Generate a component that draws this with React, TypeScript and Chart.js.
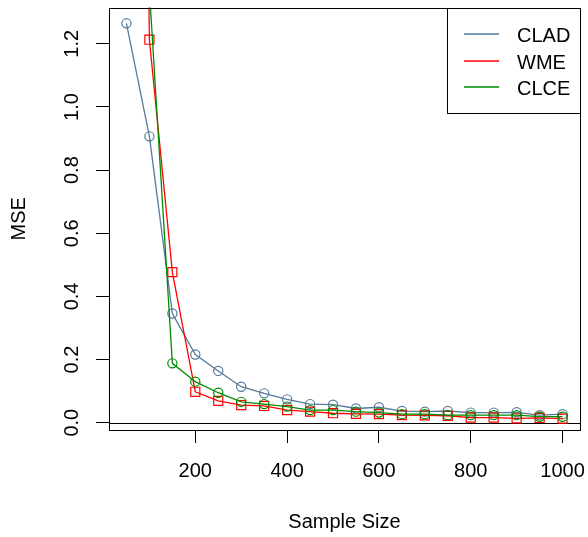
import React, { useEffect, useRef } from "react";
import { Chart, registerables } from "chart.js";

Chart.register(...registerables);

// ---- data ----
const sampleSizes = [50, 100, 150, 200, 250, 300, 350, 400, 450, 500, 550, 600, 650, 700, 750, 800, 850, 900, 950, 1000];
const cladMSE = [1.265, 0.907, 0.346, 0.216, 0.164, 0.114, 0.093, 0.074, 0.059, 0.057, 0.045, 0.049, 0.037, 0.035, 0.037, 0.032, 0.032, 0.033, 0.024, 0.027];
const wmeMSE = [6.9, 1.213, 0.477, 0.098, 0.069, 0.056, 0.053, 0.040, 0.035, 0.030, 0.028, 0.027, 0.024, 0.023, 0.022, 0.016, 0.016, 0.014, 0.015, 0.013];
const clceMSE = [3.0, 1.37, 0.188, 0.130, 0.095, 0.066, 0.059, 0.051, 0.040, 0.040, 0.035, 0.032, 0.027, 0.027, 0.024, 0.024, 0.024, 0.024, 0.019, 0.019];
const seriesNames = ["CLAD", "WME", "CLCE"];
const xTickValues = [200, 400, 600, 800, 1000];
const xTickLabels = ["200", "400", "600", "800", "1000"];
const yTickValues = [0, 0.2, 0.4, 0.6, 0.8, 1.0, 1.2];
const yTickLabels = ["0.0", "0.2", "0.4", "0.6", "0.8", "1.0", "1.2"];
const xTitle = "Sample Size";
const yTitle = "MSE";

// ---- styles ----
const COLORS = ["#557a9a", "#ff0000", "#008b00"];
const FONT = '20px "Liberation Sans", Arial, sans-serif';

const rPlotPlugin = {
  id: "rPlot",
  beforeDatasetsDraw(chart: any) {
    const { ctx, chartArea: a, scales } = chart;
    const y0 = Math.round(scales.y.getPixelForValue(0)) + 0.5;
    ctx.save();
    ctx.strokeStyle = "#000";
    ctx.lineWidth = 1;
    ctx.beginPath();
    ctx.moveTo(a.left, y0);
    ctx.lineTo(a.right, y0);
    ctx.stroke();
    ctx.restore();
  },
  afterDraw(chart: any) {
    const { ctx, chartArea: a, scales } = chart;
    const xs = scales.x;
    const ys = scales.y;
    ctx.save();
    // box
    ctx.strokeStyle = "#000";
    ctx.lineWidth = 1;
    ctx.strokeRect(Math.round(a.left) + 0.5, Math.round(a.top) + 0.5, Math.round(a.right - a.left), Math.round(a.bottom - a.top));

    ctx.fillStyle = "#000";
    ctx.font = FONT;
    // x tick labels
    ctx.textAlign = "center";
    ctx.textBaseline = "alphabetic";
    xTickValues.forEach((v, i) => {
      ctx.fillText(xTickLabels[i], xs.getPixelForValue(v), 477);
    });
    // x title
    ctx.fillText(xTitle, (a.left + a.right) / 2, 528);
    // y tick labels (rotated)
    yTickValues.forEach((v, i) => {
      ctx.save();
      ctx.translate(78, ys.getPixelForValue(v));
      ctx.rotate(-Math.PI / 2);
      ctx.textAlign = "center";
      ctx.fillText(yTickLabels[i], 0, 0);
      ctx.restore();
    });
    // y title
    ctx.save();
    ctx.translate(25, (a.top + a.bottom) / 2);
    ctx.rotate(-Math.PI / 2);
    ctx.textAlign = "center";
    ctx.fillText(yTitle, 0, 0);
    ctx.restore();
    ctx.restore();

    // legend
    const lx = 447.5;
    const ly = Math.round(a.top) + 0.5;
    const lw = Math.round(a.right) - 447;
    const lh = 105;
    ctx.save();
    ctx.fillStyle = "#fff";
    ctx.fillRect(lx, ly, lw, lh);
    ctx.strokeStyle = "#000";
    ctx.lineWidth = 1;
    ctx.strokeRect(lx, ly, lw, lh);
    ctx.restore();
    const baselines = [42, 68.5, 95];
    seriesNames.forEach((name, i) => {
      const yl = Math.round(baselines[i] - 8);
      ctx.save();
      ctx.strokeStyle = COLORS[i];
      ctx.lineWidth = 1.5;
      ctx.setLineDash([]);
      ctx.beginPath();
      ctx.moveTo(464, yl);
      ctx.lineTo(499, yl);
      ctx.stroke();
      ctx.restore();
      ctx.save();
      ctx.font = FONT;
      ctx.fillStyle = "#000";
      ctx.textAlign = "left";
      ctx.textBaseline = "alphabetic";
      ctx.fillText(name, 517, baselines[i]);
      ctx.restore();
    });
  },
};

export default function App() {
  const canvasRef = useRef<HTMLCanvasElement | null>(null);

  useEffect(() => {
    const canvas = canvasRef.current;
    if (!canvas) return;
    const mk = (vals: number[]) => sampleSizes.map((x, i) => ({ x, y: vals[i] }));
    const seriesData = [cladMSE, wmeMSE, clceMSE];
    const pointStyles = ["circle", "rect", "circle"];
    const radii = [4.6, 6.4, 4.6];
    const datasets = seriesNames.map((name, i) => ({
      label: name,
      data: mk(seriesData[i]),
      borderColor: COLORS[i],
      backgroundColor: "rgba(0,0,0,0)",
      borderWidth: 1.3,
      pointStyle: pointStyles[i],
      pointRadius: radii[i],
      pointBorderWidth: 1.2,
      pointBorderColor: COLORS[i],
      pointBackgroundColor: "rgba(0,0,0,0)",
      fill: false,
      tension: 0,
      order: 3 - i,
    }));

    const chart = new Chart(canvas, {
      type: "line",
      data: { datasets },
      options: {
        animation: false,
        responsive: false,
        events: [],
        layout: { padding: { top: 7, right: 8, left: 0, bottom: 0 } },
        plugins: { legend: { display: false }, tooltip: { enabled: false } },
        scales: {
          x: {
            type: "linear",
            min: 12,
            max: 1038,
            afterBuildTicks: (s: any) => {
              s.ticks = xTickValues.map((v) => ({ value: v }));
            },
            afterFit: (s: any) => {
              s.height = 107;
            },
            ticks: { display: false },
            grid: { drawOnChartArea: false, drawTicks: true, tickLength: 13, color: "#000", lineWidth: 1 },
            border: { display: false },
          },
          y: {
            type: "linear",
            min: -0.0231,
            max: 1.3148,
            afterBuildTicks: (s: any) => {
              s.ticks = yTickValues.map((v) => ({ value: v }));
            },
            afterFit: (s: any) => {
              s.width = 109;
            },
            ticks: { display: false },
            grid: { drawOnChartArea: false, drawTicks: true, tickLength: 13, color: "#000", lineWidth: 1 },
            border: { display: false },
          },
        },
      },
      plugins: [rPlotPlugin],
    } as any);

    return () => chart.destroy();
  }, []);

  return (
    <div style={{ position: "absolute", left: 0, top: 0, width: 588, height: 537, background: "#fff" }}>
      <canvas ref={canvasRef} width={588} height={537} style={{ display: "block" }} />
    </div>
  );
}
